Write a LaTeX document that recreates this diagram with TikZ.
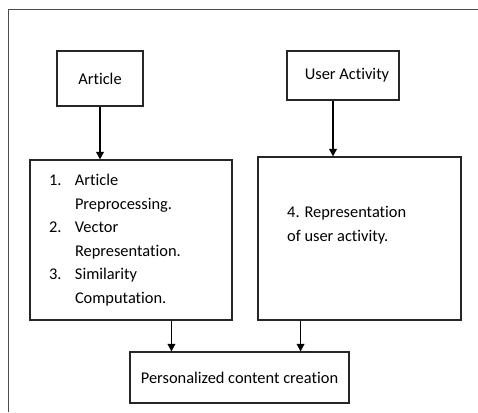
\documentclass[tikz,border=0pt]{standalone}
\usepackage{fontspec}
\setmainfont{Carlito}[Ligatures=NoCommon]
\usetikzlibrary{arrows.meta}

\tikzset{
  box/.style={draw=black!85, line width=1.1pt, rectangle, inner sep=0pt},
  arr/.style={line width=1.7pt, -{Triangle[length=7.5pt,width=7.5pt]}},
}

\begin{document}
\begin{tikzpicture}[x=1pt,y=-1pt,font=\fontsize{16.4}{23.5}\selectfont]
\useasboundingbox (0,0) rectangle (478,412);
\draw[black!70, line width=0.9pt] (478,9) -- (8,9) -- (8,412);

\node[box, minimum width=86pt, minimum height=55pt] (article) at (100,78.5) {Article};
\node[box, minimum width=112pt, minimum height=49pt] (user) at (343,75.5) {\hspace*{8pt}User Activity};

\node[box, minimum width=202pt, minimum height=160pt, text width=164pt, align=left] (proc) at (131,240)
  {\makebox[26pt][l]{1.}Article\\
   \hspace*{26pt}Preprocessing.\\
   \makebox[26pt][l]{2.}Vector\\
   \hspace*{26pt}Representation.\\
   \makebox[26pt][l]{3.}Similarity\\
   \hspace*{26pt}Computation.};
\node[box, minimum width=203pt, minimum height=163pt] (repr) at (359.5,238.5) {};
\node[anchor=west, align=left, inner sep=0pt] (reprtext) at (287,225) {4. Representation\\of user activity.};

\node[box, minimum width=219pt, minimum height=51pt] (final) at (239.5,377.5) {Personalized content creation};

\coordinate (in1) at ([xshift=42pt]final.north west);
\coordinate (in2) at ([xshift=-49pt]final.north east);
\coordinate (up2) at ([xshift=-10pt]user.south);

\draw[arr] (article.south) -- (article.south |- proc.north);
\draw[arr] (up2) -- (up2 |- repr.north);
\draw[arr] (proc.south -| in1) -- (in1);
\draw[arr] (repr.south -| in2) -- (in2);
\end{tikzpicture}
\end{document}
